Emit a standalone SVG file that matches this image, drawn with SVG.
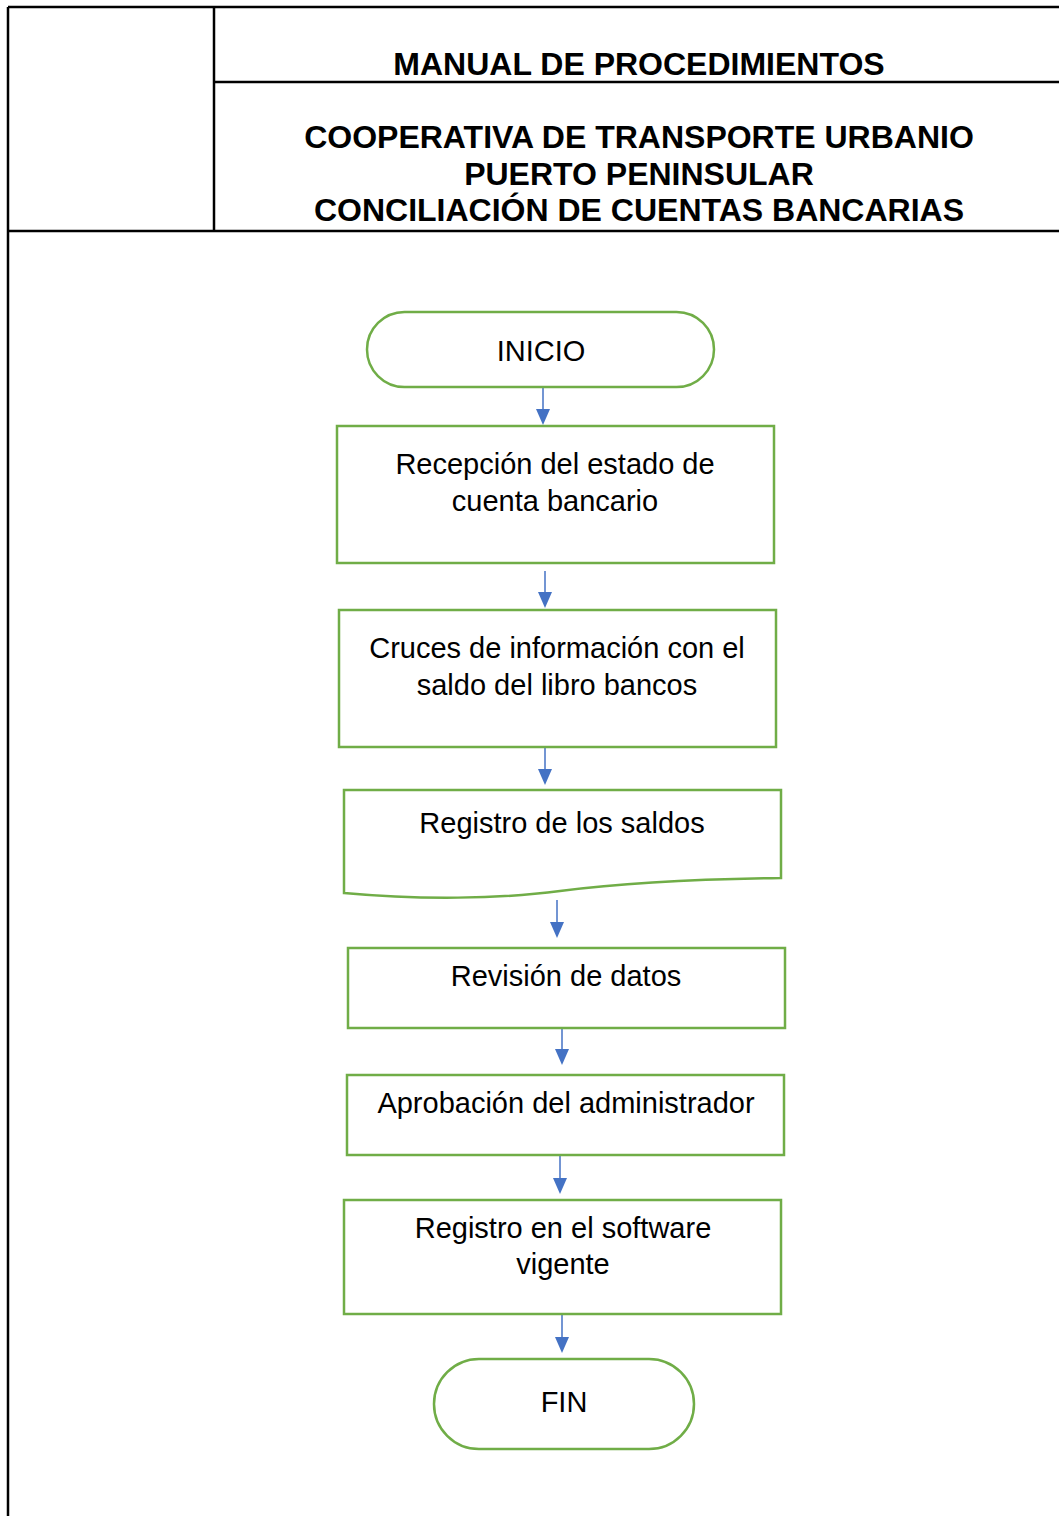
<svg xmlns="http://www.w3.org/2000/svg" width="1059" height="1516" viewBox="0 0 1059 1516">
  <style>
    .frame { fill: none; stroke: #000; stroke-width: 2.5; }
    .title { font-family: "Liberation Sans", Arial, sans-serif; font-weight: bold; font-size: 32px; fill: #000; text-anchor: middle; }
    .shape { fill: #fff; stroke: #70AD47; stroke-width: 2.5; }
    .label { font-family: "Liberation Sans", Arial, sans-serif; font-size: 29px; fill: #000; text-anchor: middle; }
    .wire { stroke: #4472C4; stroke-width: 1.5; fill: none; }
    .head { fill: #4472C4; }
  </style>
  <rect width="1059" height="1516" fill="#fff"/>

  <!-- header table -->
  <g id="header">
    <line class="frame" x1="8" y1="7" x2="1059" y2="7"/>
    <line class="frame" x1="8" y1="7" x2="8" y2="1516"/>
    <line class="frame" x1="214" y1="7" x2="214" y2="231"/>
    <line class="frame" x1="214" y1="82" x2="1059" y2="82"/>
    <line class="frame" x1="8" y1="231" x2="1059" y2="231"/>
    <text class="title" x="639" y="75">MANUAL DE PROCEDIMIENTOS</text>
    <text class="title" x="639" y="148">COOPERATIVA DE TRANSPORTE URBANIO</text>
    <text class="title" x="639" y="185">PUERTO PENINSULAR</text>
    <text class="title" x="639" y="221">CONCILIACIÓN DE CUENTAS BANCARIAS</text>
  </g>

  <!-- connectors: stem plus filled triangular head -->
  <g id="connectors">
    <line class="wire" x1="543" y1="388" x2="543" y2="412"/>
    <path class="head" d="M536,409 L550,409 L543,425 Z"/>
    <line class="wire" x1="545" y1="571" x2="545" y2="595"/>
    <path class="head" d="M538,592 L552,592 L545,608 Z"/>
    <line class="wire" x1="545" y1="748" x2="545" y2="772"/>
    <path class="head" d="M538,769 L552,769 L545,785 Z"/>
    <line class="wire" x1="557" y1="900" x2="557" y2="925"/>
    <path class="head" d="M550,922 L564,922 L557,938 Z"/>
    <line class="wire" x1="562" y1="1029" x2="562" y2="1052"/>
    <path class="head" d="M555,1049 L569,1049 L562,1065 Z"/>
    <line class="wire" x1="560" y1="1156" x2="560" y2="1181"/>
    <path class="head" d="M553,1178 L567,1178 L560,1194 Z"/>
    <line class="wire" x1="562" y1="1315" x2="562" y2="1340"/>
    <path class="head" d="M555,1337 L569,1337 L562,1353 Z"/>
  </g>

  <g id="inicio">
    <rect class="shape" x="367" y="312" width="347" height="75" rx="37.5" ry="37.5"/>
    <text class="label" x="541" y="361">INICIO</text>
  </g>

  <g id="recepcion">
    <rect class="shape" x="337" y="426" width="437" height="137"/>
    <text class="label" x="555" y="474">Recepción del estado de</text>
    <text class="label" x="555" y="511">cuenta bancario</text>
  </g>

  <g id="cruces">
    <rect class="shape" x="339" y="610" width="437" height="137"/>
    <text class="label" x="557" y="658">Cruces de información con el</text>
    <text class="label" x="557" y="695">saldo del libro bancos</text>
  </g>

  <g id="registro-saldos">
    <path class="shape" d="M344,790 H781 V878 C700,879 630,882 560,891 C500,899 420,900 344,893 Z"/>
    <text class="label" x="562" y="833">Registro de los saldos</text>
  </g>

  <g id="revision">
    <rect class="shape" x="348" y="948" width="437" height="80"/>
    <text class="label" x="566" y="986">Revisión de datos</text>
  </g>

  <g id="aprobacion">
    <rect class="shape" x="347" y="1075" width="437" height="80"/>
    <text class="label" x="566" y="1113">Aprobación del administrador</text>
  </g>

  <g id="registro-software">
    <rect class="shape" x="344" y="1200" width="437" height="114"/>
    <text class="label" x="563" y="1238">Registro en el software</text>
    <text class="label" x="563" y="1274">vigente</text>
  </g>

  <g id="fin">
    <rect class="shape" x="434" y="1359" width="260" height="90" rx="45" ry="45"/>
    <text class="label" x="564" y="1412">FIN</text>
  </g>
</svg>
